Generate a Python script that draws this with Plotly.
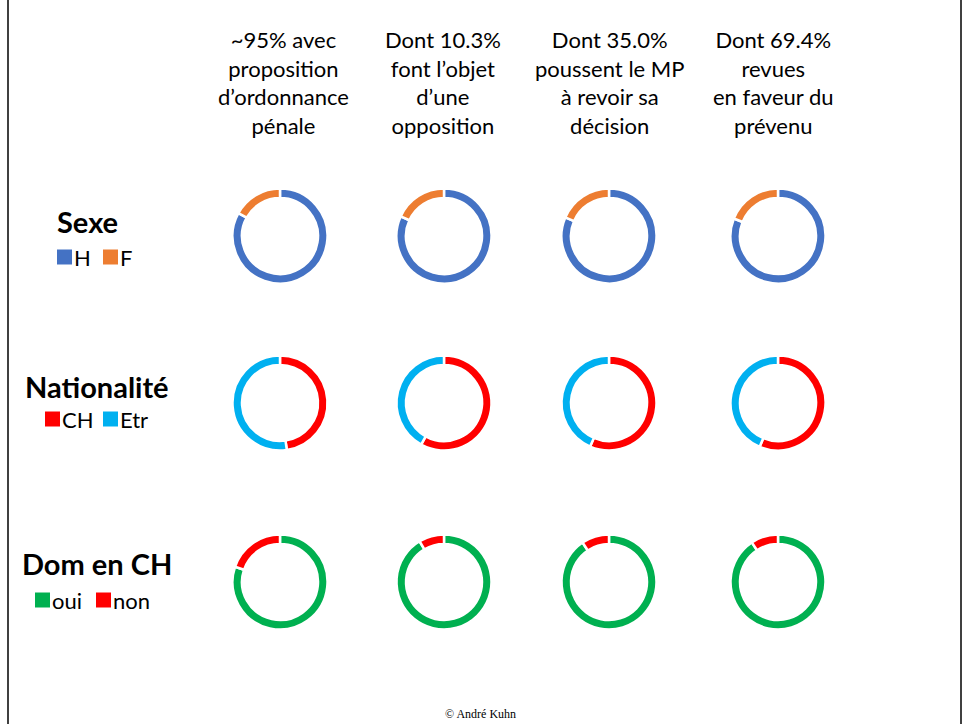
import plotly.graph_objects as go

W, H = 967, 724

# Column headers (one list of lines per column)
col_headers = [
    ["~95% avec", "proposition", "d’ordonnance", "pénale"],
    ["Dont 10.3%", "font l’objet", "d’une", "opposition"],
    ["Dont 35.0%", "poussent le MP", "à revoir sa", "décision"],
    ["Dont 69.4%", "revues", "en faveur du", "prévenu"],
]

# Shares per column (%)
sexe_labels = ["H", "F"]
sexe_H = [83.0, 81.8, 81.4, 81.0]
sexe_F = [17.0, 18.2, 18.6, 19.0]

nat_labels = ["CH", "Etr"]
nat_CH = [47.7, 58.0, 56.5, 56.3]
nat_Etr = [52.3, 42.0, 43.5, 43.7]

dom_labels = ["oui", "non"]
dom_oui = [80.2, 91.4, 90.6, 90.7]
dom_non = [19.8, 8.6, 9.4, 9.3]

BLUE, ORANGE = "#4472C4", "#ED7D31"
RED, CYAN, GREEN = "#FF0000", "#00B0F0", "#00B050"

rows = [
    ("Sexe", sexe_labels, [sexe_H, sexe_F], [BLUE, ORANGE]),
    ("Nationalité", nat_labels, [nat_CH, nat_Etr], [RED, CYAN]),
    ("Dom en CH", dom_labels, [dom_oui, dom_non], [GREEN, RED]),
]

col_x = [280, 444, 609, 778]
row_y = [236, 403, 582]
R = 47.5

FONT = "Lato, 'Open Sans', sans-serif"


def px(x):
    return x / W


def py(y):
    return 1 - y / H


fig = go.Figure()

for ri, (name, labels, series, colors) in enumerate(rows):
    for ci in range(4):
        cx, cy = col_x[ci], row_y[ri]
        fig.add_trace(go.Pie(
            labels=labels,
            values=[series[0][ci], series[1][ci]],
            marker=dict(colors=colors, line=dict(color="white", width=2.5)),
            hole=0.80,
            sort=False,
            direction="clockwise",
            rotation=0,
            textinfo="none",
            hoverinfo="label+percent",
            showlegend=False,
            domain=dict(x=[px(cx - R), px(cx + R)], y=[py(cy + R), py(cy - R)]),
        ))

annotations = []
header_x = [283, 443, 609, 773]
for ci, lines in enumerate(col_headers):
    annotations.append(dict(
        x=px(header_x[ci]), y=py(24), xref="paper", yref="paper",
        xanchor="center", yanchor="top",
        text="<br>".join(lines), showarrow=False, align="center",
        font=dict(family=FONT, size=22, color="black"),
    ))

# Row titles and their small legends
title_pos = [(87, 222), (97, 386), (97, 563)]
legend_items = [
    [(57, 257, BLUE, "H"), (103, 257, ORANGE, "F")],
    [(45, 419, RED, "CH"), (103, 419, CYAN, "Etr")],
    [(35, 600, GREEN, "oui"), (96, 600, RED, "non")],
]
shapes = []
for ri, (name, labels, series, colors) in enumerate(rows):
    tx, ty = title_pos[ri]
    annotations.append(dict(
        x=px(tx), y=py(ty), xref="paper", yref="paper",
        xanchor="center", yanchor="middle", text="<b>%s</b>" % name,
        showarrow=False, font=dict(family=FONT, size=29, color="black"),
    ))
    for (sx, sy, col, lab) in legend_items[ri]:
        shapes.append(dict(
            type="rect", xref="paper", yref="paper",
            x0=px(sx), x1=px(sx + 15), y0=py(sy + 7.5), y1=py(sy - 7.5),
            fillcolor=col, line=dict(width=0),
        ))
        annotations.append(dict(
            x=px(sx + 15), y=py(sy), xref="paper", yref="paper",
            xanchor="left", yanchor="middle", text=lab, showarrow=False,
            font=dict(family=FONT, size=22, color="black"),
        ))

annotations.append(dict(
    x=px(480), y=py(714), xref="paper", yref="paper",
    xanchor="center", yanchor="middle", text="© André Kuhn", showarrow=False,
    font=dict(family="Liberation Serif, serif", size=12, color="black"),
))

# Slide frame
shapes.append(dict(type="line", xref="paper", yref="paper",
                   x0=px(8), x1=px(8), y0=0, y1=1, line=dict(color="black", width=1.5)))
shapes.append(dict(type="line", xref="paper", yref="paper",
                   x0=px(961), x1=px(961), y0=0, y1=1, line=dict(color="black", width=1.5)))

fig.update_layout(
    width=W, height=H,
    margin=dict(l=0, r=0, t=0, b=0),
    paper_bgcolor="white", plot_bgcolor="white",
    annotations=annotations, shapes=shapes,
)

fig.write_html("out.html")
